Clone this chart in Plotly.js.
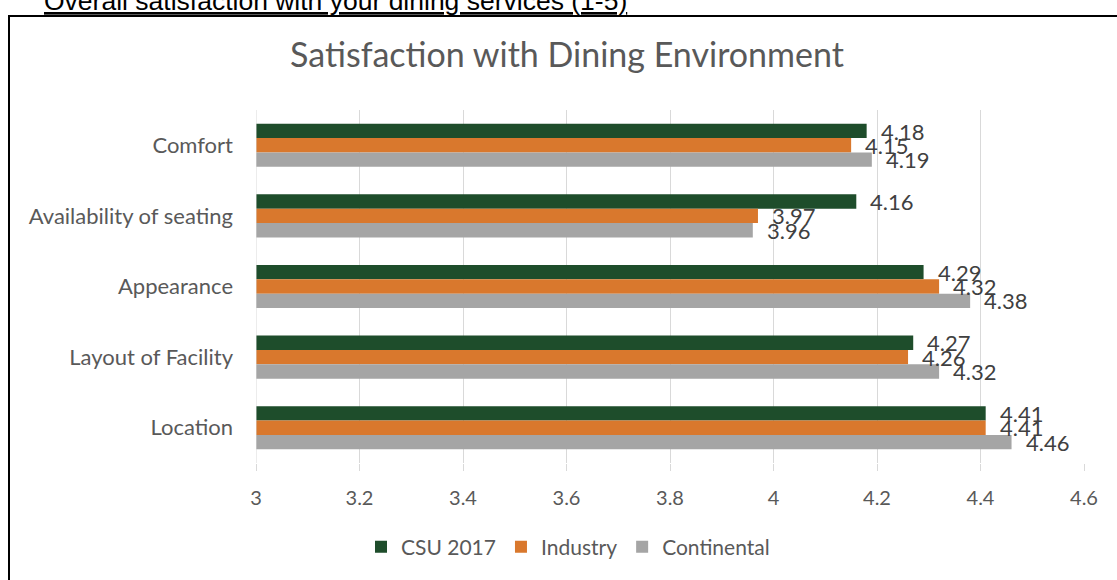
<!DOCTYPE html>
<html>
<head>
<meta charset="utf-8">
<script src="https://cdn.plot.ly/plotly-3.0.1.min.js"></script>
<style>
  html, body { margin: 0; padding: 0; background: #ffffff; overflow: hidden; }
  #chart { width: 1117px; height: 580px; }
</style>
</head>
<body>
<div id="chart"></div>
<script>
const categories = ["Comfort", "Availability of seating", "Appearance", "Layout of Facility", "Location"];
const seriesNames = ["CSU 2017", "Industry", "Continental"];
const csu2017 = [4.18, 4.16, 4.29, 4.27, 4.41];
const industry = [4.15, 3.97, 4.32, 4.26, 4.41];
const continental = [4.19, 3.96, 4.38, 4.32, 4.46];
const xTicks = [3, 3.2, 3.4, 3.6, 3.8, 4, 4.2, 4.4, 4.6];
const xTickLabels = ["3", "3.2", "3.4", "3.6", "3.8", "4", "4.2", "4.4", "4.6"];
const chartTitle = "Satisfaction with Dining Environment";
const pageHeading = "Overall satisfaction with your dining services (1-5)";

const colors = ["#1E4D2B", "#D9782D", "#A5A5A5"];
const allSeries = [csu2017, industry, continental];
const FONT = "Lato, 'Open Sans', sans-serif";

const traces = allSeries.map((vals, i) => ({
  type: "bar",
  orientation: "h",
  name: seriesNames[i],
  x: vals,
  y: categories,
  marker: { color: colors[i], line: { width: 0 } },
  hoverinfo: "x+y+name"
}));

// data labels (offset per series within each group)
const barPx = 14.3;
const shifts = [barPx, 0, -barPx];
const annotations = [];
allSeries.forEach((vals, i) => {
  vals.forEach((v, j) => {
    annotations.push({
      x: v, y: categories[j], xref: "x", yref: "y",
      text: v.toFixed(2), showarrow: false,
      xanchor: "left", yanchor: "middle",
      xshift: 12, yshift: shifts[i],
      font: { family: FONT, size: 22, color: "#404040" }
    });
  });
});

// partially visible heading above the chart frame
annotations.push({
  xref: "paper", yref: "paper",
  x: (42 - 256) / 828, y: (463 - 1) / 353,
  xanchor: "left", yanchor: "middle",
  text: pageHeading, showarrow: false,
  font: { family: "'Liberation Sans', Arial, sans-serif", size: 26.5, color: "#000000", lineposition: "under" }
});

const layout = {
  width: 1117, height: 580,
  margin: { l: 256, r: 33, t: 110, b: 117, pad: 0 },
  paper_bgcolor: "#ffffff", plot_bgcolor: "#ffffff",
  barmode: "group",
  bargap: 0.39,
  bargroupgap: 0,
  title: {
    text: chartTitle,
    xref: "container", yref: "container",
    x: 567 / 1117, y: 1 - 55 / 580,
    xanchor: "center", yanchor: "middle",
    font: { family: FONT, size: 34, color: "#595959" }
  },
  xaxis: {
    range: [3, 4.6],
    tickvals: xTicks, ticktext: xTickLabels,
    showgrid: true, gridcolor: "#D9D9D9", gridwidth: 1,
    zeroline: false, showline: false,
    ticks: "outside", ticklen: 7, tickcolor: "#D9D9D9", tickwidth: 1,
    ticklabelstandoff: 10,
    tickfont: { family: FONT, size: 20, color: "#595959" },
    fixedrange: true
  },
  yaxis: {
    type: "category",
    autorange: "reversed",
    showgrid: false, zeroline: false,
    showline: false,
    ticks: "",
    ticklabelstandoff: 22,
    tickfont: { family: FONT, size: 22, color: "#595959" },
    fixedrange: true
  },
  showlegend: true,
  legend: {
    orientation: "h",
    x: (568 - 256) / 828, xanchor: "center",
    y: (463 - 547) / 353, yanchor: "middle",
    font: { family: FONT, size: 21, color: "#595959" },
    itemwidth: 30,
    bgcolor: "rgba(0,0,0,0)"
  },
  shapes: [
    {
      type: "line", xref: "x", yref: "paper",
      x0: 3, x1: 3, y0: 0, y1: 1,
      line: { color: "#D9D9D9", width: 1 }
    },
    {
      type: "rect", xref: "paper", yref: "paper",
      x0: (9 - 256) / 828, x1: (1125 - 256) / 828,
      y0: (463 - 590) / 353, y1: (463 - 16) / 353,
      line: { color: "#000000", width: 2 },
      fillcolor: "rgba(0,0,0,0)", layer: "below"
    }
  ],
  annotations: annotations
};

Plotly.newPlot("chart", traces, layout, { displayModeBar: false, staticPlot: true });
</script>
</body>
</html>
